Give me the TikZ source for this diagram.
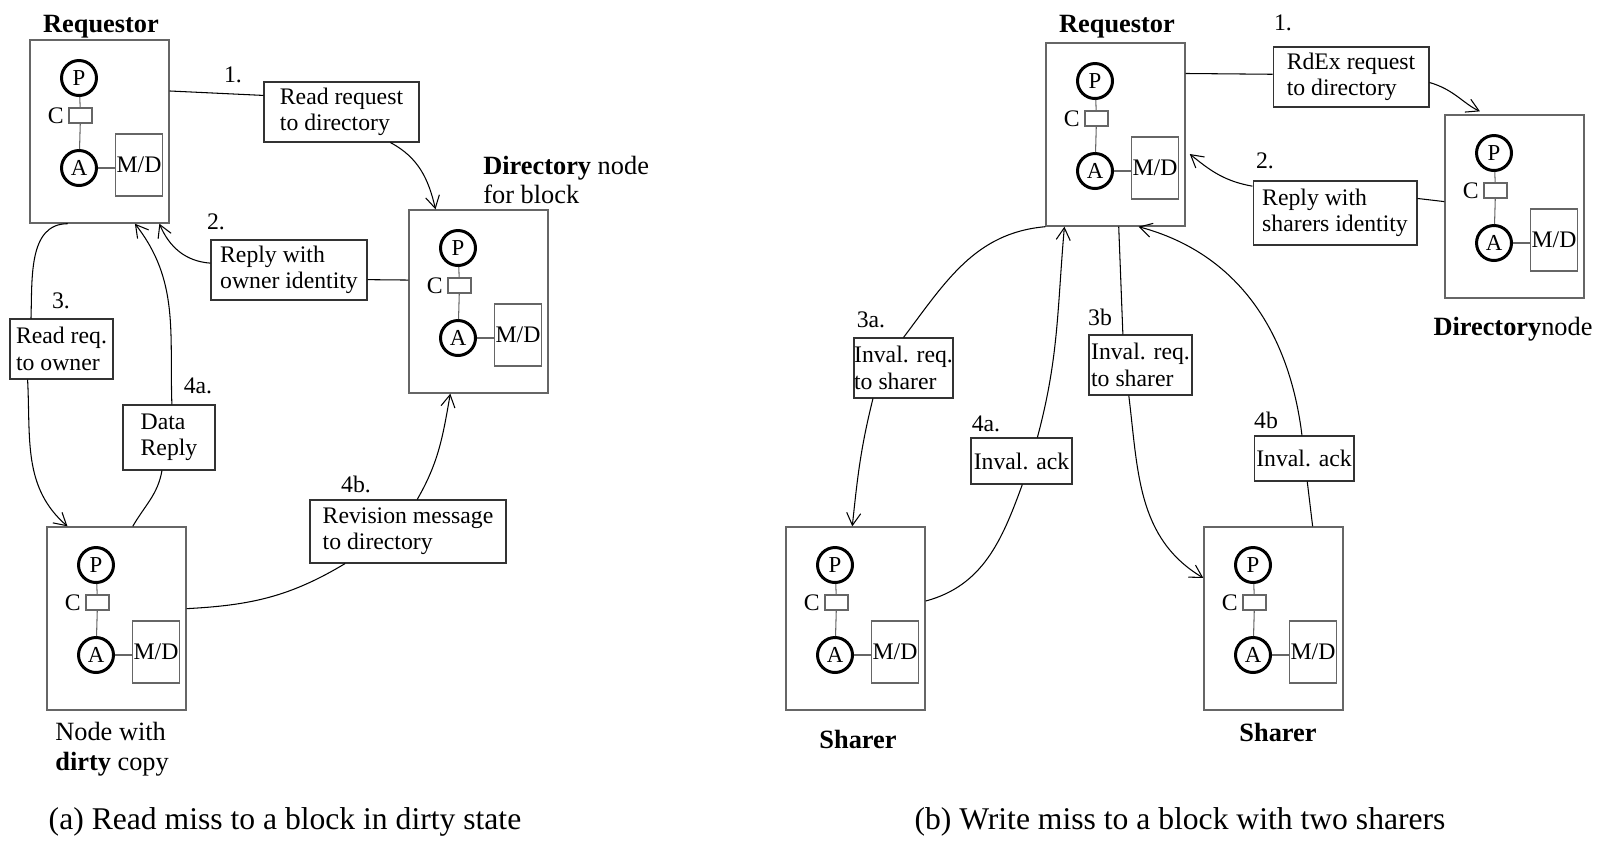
\documentclass[tikz,border=0pt]{standalone}
\usepackage{fontspec}
\setmainfont{Liberation Serif}
\usetikzlibrary{arrows.meta,shapes,calc,positioning}
\newcommand{\lblfont}{\fontsize{13.5}{15}\selectfont}
\newcommand{\ttlfont}{\fontsize{15}{17}\selectfont}
% processing node: name, x, y of the top left corner
\newcommand{\procnode}[3]{%
    \node[pbox] at (#2+69.5, -#3-91.5) (#1) {};
    \node[proc] at (#2+49, -#3-38) (#1p) {P};
    \node[cache] at (#2+50.5, -#3-75.5) (#1c) {};
    \node[clbl] at (#1c.west) (#1cl) {C};
    \node[proc] at (#2+49, -#3-128) (#1a) {A};
    \node[mem] at (#2+109, -#3-125) (#1m) {M/D};
    \draw[inner] (#1p) -- (#1c) -- (#1a);
    \draw[inner] (#1a) -- (#1a -| #1m.west);
}

\begin{document}
\begin{tikzpicture}[x=0.02cm, y=0.02cm, font=\lblfont]
\tikzset{pbox/.style={draw=black!60, line width=0.8pt, minimum width=2.78cm, minimum height=3.66cm, inner sep=0pt}}
\tikzset{proc/.style={draw, circle, line width=1.7pt, minimum size=0.7cm, inner sep=0pt, font=\fontsize{13}{13}\selectfont}}
\tikzset{cache/.style={draw=black!60, line width=0.6pt, minimum width=0.46cm, minimum height=0.3cm, inner sep=0pt}}
\tikzset{clbl/.style={anchor=east, inner sep=2.5pt, font=\fontsize{13.5}{14}\selectfont}}
\tikzset{mem/.style={draw=black!60, line width=0.6pt, minimum width=0.94cm, minimum height=1.24cm, inner sep=0pt, font=\fontsize{13.5}{14}\selectfont}}
\tikzset{inner/.style={draw=black!60, line width=0.6pt}}

\tikzset{msg/.style={draw=black!80, line width=0.6pt, align=left, inner sep=0pt}}
\tikzset{stepno/.style={inner sep=0pt}}
\tikzset{ttl/.style={anchor=base, font=\ttlfont\bfseries}}
\tikzset{link/.style={line width=0.6pt}}
\tikzset{msgarrow/.style={link, -{Straight Barb[length=7pt,width=8pt]}}}

\useasboundingbox (0,0) rectangle (1605,-840);


%% (a) Read miss to a block in dirty state
\procnode{req}{30}{40}
\procnode{dir}{409}{210}
\procnode{dirty}{47}{527}

\node[ttl] at (101, -32) (reqt) {Requestor};
\node[anchor=west, align=left, inner sep=0pt, font=\ttlfont] at (483, -180) (dirt)
    {\textbf{Directory} node\\for block};
\node[anchor=west, align=left, inner sep=0pt, font=\fontsize{15}{17}\selectfont] at (55, -749) (dirtyt)
    {Node with\\\textbf{dirty} copy};

\node[msg, minimum width=3.1cm, minimum height=1.2cm] at (341.5, -112) (m1) {Read request\\to directory};
\node[msg, minimum width=3.12cm, minimum height=1.2cm] at (289, -270) (m2) {Reply with\\owner identity};
\node[msg, minimum width=2.06cm, minimum height=1.2cm] at (61.5, -349) (m3) {Read req.\\to owner};
\node[msg, minimum width=1.84cm, minimum height=1.3cm] at (169, -437.5) (m4) {Data\\Reply};
\node[msg, minimum width=3.92cm, minimum height=1.26cm] at (408, -531.5) (m5) {Revision message\\to directory};

\node[stepno] at (233, -75) (s1) {1.};
\node[stepno] at (216, -222) (s2) {2.};
\node[stepno] at (61, -301) (s3) {3.};
\node[stepno] at (198, -386) (s4a) {4a.};
\node[stepno] at (356, -484) (s4b) {4b.};

  \draw[link] (req.30) -- (m1.168);
  \draw[msgarrow] (m1.-32) to[out=-28,in=103] (dir.115);
  \draw[link] (dir.163) -- (m2.-7);
  \draw[msgarrow] (m2.175) to[out=176,in=-67] (req.-57);
  \draw[link] (req.-109) to[out=180,in=88] (m3.135);
  \draw[msgarrow] (m3.-138) to[out=-87,in=139] (dirty.118);
  \draw[link] (dirty.80) to[out=60,in=-100] (m4.-102);
  \draw[msgarrow] (m4.85) to[out=92,in=-52] (req.-69);
  \draw[link] (dirty.8) to[out=3,in=-149] (m5.-153);
  \draw[msgarrow] (m5.74) to[out=60,in=-100] (dir.-107);

\node[anchor=base, font=\fontsize{18}{20}\selectfont] at (285, -829) (capa)
    {(a) Read miss to a block in dirty state};


%% (b) Write miss to a block with two sharers
\procnode{req2}{1046}{43}
\procnode{dir2}{1445}{115}
\procnode{sh1}{786}{527}
\procnode{sh2}{1204}{527}

\node[ttl] at (1117, -32) (req2t) {Requestor};
\node[anchor=base, font=\ttlfont] at (1513, -335) (dir2t) {\textbf{Directory}node};
\node[ttl] at (858, -748) (sh1t) {Sharer};
\node[ttl] at (1278, -741) (sh2t) {Sharer};

\node[msg, minimum width=3.12cm, minimum height=1.2cm] at (1351, -77) (n1) {RdEx request\\to directory};
\node[msg, minimum width=3.28cm, minimum height=1.28cm] at (1335, -213) (n2) {Reply with\\sharers identity};
\node[msg, minimum width=1.98cm, minimum height=1.2cm] at (903.5, -368) (n3) {Inval. req.\\to sharer};
\node[msg, minimum width=2.02cm, minimum height=0.92cm] at (1021.5, -461) (n4) {Inval. ack};
\node[msg, minimum width=2.06cm, minimum height=1.2cm] at (1140.5, -365) (n5) {Inval. req.\\to sharer};
\node[msg, minimum width=2cm, minimum height=0.9cm] at (1304, -458.5) (n6) {Inval. ack};

\node[stepno] at (1283, -23) (t1) {1.};
\node[stepno] at (1265, -161) (t2) {2.};
\node[stepno] at (871, -320) (t3a) {3a.};
\node[stepno] at (986, -424) (t4a) {4a.};
\node[stepno] at (1100, -317) (t3b) {3b};
\node[stepno] at (1266, -420) (t4b) {4b};

  \draw[link] (req2.41) -- (n1.178);
  \draw[msgarrow, shorten >=4pt] (n1.-4) to[out=-16,in=155] (dir2.107);
  \draw[link] (dir2.176) -- (n2.10);
  \draw[msgarrow, shorten >=3pt] (n2.162) to[out=170,in=-39] (req2.-13);
  \draw[link] (req2.south west) to[out=185,in=53] (n3.north);
  \draw[msgarrow] (n3.-135) to[out=-104,in=84] (sh1.92);
  \draw[link] (sh1.14) to[out=15,in=-110] (n4.-88);
  \draw[msgarrow] (n4.56) to[out=75,in=-95] (req2.-119);
  \draw[link] (req2.-88) -- (n5.120);
  \draw[msgarrow] (n5.-111) to[out=-83,in=149] (sh2.150);
  \draw[link] (sh2.67) -- (n6.-82);
  \draw[msgarrow] (n6.95) to[out=97,in=-15] (req2.-76);

\node[anchor=base, font=\fontsize{18}{20}\selectfont] at (1180, -829) (capb)
    {(b) Write miss to a block with two sharers};

\end{tikzpicture}
\end{document}
